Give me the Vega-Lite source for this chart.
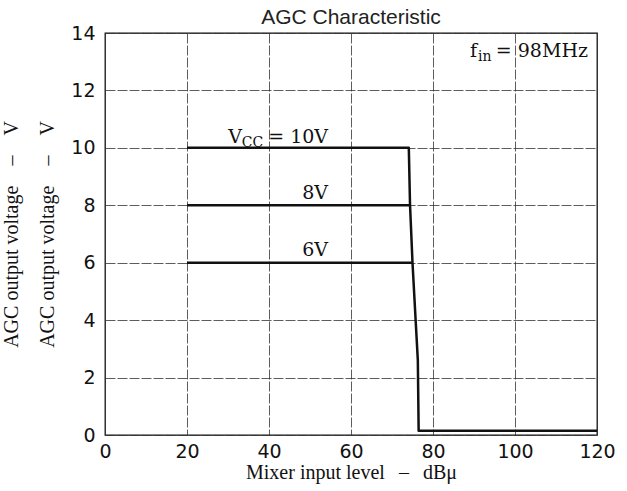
{
  "$schema": "https://vega.github.io/schema/vega-lite/v6.json",
  "width": 492,
  "height": 402,
  "autosize": {"type": "none"},
  "padding": {"left": 105, "top": 33, "right": 30, "bottom": 56},
  "background": "white",
  "title": {
    "text": "AGC Characteristic",
    "font": "Liberation Sans",
    "fontSize": 21,
    "fontWeight": "normal",
    "color": "#222",
    "baseline": "alphabetic",
    "offset": 1,
    "dy": 22,
    "frame": "group",
    "anchor": "middle"
  },
  "config": {
    "view": {"stroke": "#111", "strokeWidth": 1.3}
  },
  "datasets": {
    "curves": [
      {"vcc": "10V", "x": 20, "y": 10},
      {"vcc": "10V", "x": 74.1, "y": 10},
      {"vcc": "10V", "x": 74.4, "y": 8},
      {"vcc": "10V", "x": 75.0, "y": 6},
      {"vcc": "10V", "x": 76.3, "y": 2.6},
      {"vcc": "10V", "x": 76.5, "y": 0.15},
      {"vcc": "10V", "x": 120, "y": 0.15},
      {"vcc": "8V", "x": 20, "y": 8},
      {"vcc": "8V", "x": 74.4, "y": 8},
      {"vcc": "6V", "x": 20, "y": 6},
      {"vcc": "6V", "x": 75.0, "y": 6}
    ],
    "labelsRight": [
      {"x": 54.4, "y": 10.17, "label": "= 10V"},
      {"x": 54.4, "y": 8.22, "label": "8V"},
      {"x": 54.4, "y": 6.24, "label": "6V"},
      {"x": 117.8, "y": 13.17, "label": "= 98MHz"},
      {"x": 33.4, "y": 10.17, "label": "V"}
    ],
    "labelsLeft": [
      {"x": 89.0, "y": 13.17, "label": "f"}
    ],
    "subRight": [
      {"x": 38.6, "y": 10.17, "label": "CC"}
    ],
    "subLeft": [
      {"x": 91.0, "y": 13.17, "label": "in"}
    ]
  },
  "layer": [
    {
      "data": {"name": "curves"},
      "mark": {"type": "line", "color": "#111", "strokeWidth": 2.5, "strokeJoin": "round"},
      "encoding": {
        "x": {
          "field": "x",
          "type": "quantitative",
          "scale": {"domain": [0, 120], "nice": false},
          "axis": {
            "values": [0, 20, 40, 60, 80, 100, 120],
            "ticks": false,
            "domain": false,
            "labelFont": "DejaVu Sans",
            "labelFontSize": 19,
            "labelColor": "#111",
            "labelPadding": 7,
            "labelFlush": false,
            "labelOverlap": false,
            "title": "Mixer input level\u2002\u2009–\u2002\u2009dBμ",
            "titleFont": "Liberation Serif",
            "titleFontSize": 20,
            "titleFontWeight": "normal",
            "titleColor": "#111",
            "titleBaseline": "alphabetic",
            "titleY": 43,
            "grid": true,
            "gridColor": "#333",
            "gridDash": [10, 2],
            "gridWidth": 0.8
          }
        },
        "y": {
          "field": "y",
          "type": "quantitative",
          "scale": {"domain": [0, 14], "nice": false},
          "axis": {
            "values": [0, 2, 4, 6, 8, 10, 12, 14],
            "ticks": false,
            "domain": false,
            "labelFont": "DejaVu Sans",
            "labelFontSize": 19,
            "labelColor": "#111",
            "labelPadding": 10,
            "labelOverlap": false,
            "title": ["AGC output voltage\u2003–\u2003V", "AGC output voltage\u2003–\u2003V"],
            "titleFont": "Liberation Serif",
            "titleFontSize": 20,
            "titleFontWeight": "normal",
            "titleColor": "#111",
            "titleAngle": -90,
            "titleAlign": "center",
            "titleBaseline": "alphabetic",
            "titleX": -88,
            "titleY": 201,
            "titleLineHeight": 36,
            "grid": true,
            "gridColor": "#333",
            "gridDash": [10, 2],
            "gridWidth": 0.8
          }
        },
        "detail": {"field": "vcc"}
      }
    },
    {
      "data": {"name": "labelsRight"},
      "mark": {"type": "text", "font": "DejaVu Serif", "fontSize": 19, "color": "#111", "align": "right", "baseline": "alphabetic"},
      "encoding": {
        "x": {"field": "x", "type": "quantitative"},
        "y": {"field": "y", "type": "quantitative"},
        "text": {"field": "label"}
      }
    },
    {
      "data": {"name": "labelsLeft"},
      "mark": {"type": "text", "font": "DejaVu Serif", "fontSize": 19, "color": "#111", "align": "left", "baseline": "alphabetic"},
      "encoding": {
        "x": {"field": "x", "type": "quantitative"},
        "y": {"field": "y", "type": "quantitative"},
        "text": {"field": "label"}
      }
    },
    {
      "data": {"name": "subRight"},
      "mark": {"type": "text", "font": "DejaVu Serif", "fontSize": 14, "color": "#111", "align": "right", "baseline": "alphabetic", "dy": 4},
      "encoding": {
        "x": {"field": "x", "type": "quantitative"},
        "y": {"field": "y", "type": "quantitative"},
        "text": {"field": "label"}
      }
    },
    {
      "data": {"name": "subLeft"},
      "mark": {"type": "text", "font": "DejaVu Serif", "fontSize": 14, "color": "#111", "align": "left", "baseline": "alphabetic", "dy": 4},
      "encoding": {
        "x": {"field": "x", "type": "quantitative"},
        "y": {"field": "y", "type": "quantitative"},
        "text": {"field": "label"}
      }
    }
  ]
}
